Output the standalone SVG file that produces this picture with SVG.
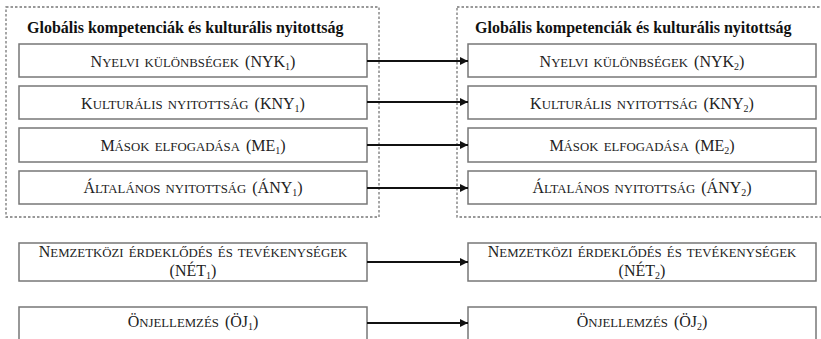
<svg xmlns="http://www.w3.org/2000/svg" width="821" height="339" viewBox="0 0 821 339">
<style>
.grp{fill:none;stroke:#777;stroke-width:1.3;stroke-dasharray:2.5,2}
.box{fill:#fff;stroke:#777;stroke-width:1.5}
.ttl{font-family:"Liberation Serif",serif;font-weight:bold;font-size:16px;fill:#111}
.lbl{font-family:"Liberation Serif",serif;font-size:16px;fill:#222;text-anchor:middle;word-spacing:2px}
.sc{font-size:12.8px}
.sub{font-size:10px}
.con{stroke:#111;stroke-width:2;fill:none;marker-end:url(#ah)}
</style>
<defs>
<marker id="ah" viewBox="0 0 10 10" refX="10" refY="5" markerWidth="4" markerHeight="4" orient="auto" markerUnits="strokeWidth">
<path d="M0,0 L10,5 L0,10 z" fill="#111"/>
</marker>
</defs>
<g id="group1">
<rect class="grp" x="6" y="7" width="373" height="210"/>
<text class="ttl" x="27" y="33">Globális kompetenciák és kulturális nyitottság</text>
</g>
<g id="group2">
<rect class="grp" x="457" y="7" width="370" height="210"/>
<text class="ttl" x="475" y="33">Globális kompetenciák és kulturális nyitottság</text>
</g>
<g id="nyk1"><rect class="box" x="19" y="44" width="348" height="33"/><text class="lbl" x="193" y="67">N<tspan class="sc">YELVI KÜLÖNBSÉGEK</tspan> (NYK<tspan class="sub" dy="3">1</tspan><tspan dy="-3">)</tspan></text></g>
<g id="kny1"><rect class="box" x="19" y="86" width="348" height="33"/><text class="lbl" x="193" y="109">K<tspan class="sc">ULTURÁLIS NYITOTTSÁG</tspan> (KNY<tspan class="sub" dy="3">1</tspan><tspan dy="-3">)</tspan></text></g>
<g id="me1"><rect class="box" x="19" y="128" width="348" height="34"/><text class="lbl" x="193" y="151">M<tspan class="sc">ÁSOK ELFOGADÁSA</tspan> (ME<tspan class="sub" dy="3">1</tspan><tspan dy="-3">)</tspan></text></g>
<g id="any1"><rect class="box" x="19" y="171" width="348" height="33"/><text class="lbl" x="193" y="193">Á<tspan class="sc">LTALÁNOS NYITOTTSÁG</tspan> (ÁNY<tspan class="sub" dy="3">1</tspan><tspan dy="-3">)</tspan></text></g>
<g id="nyk2"><rect class="box" x="468" y="44" width="348" height="33"/><text class="lbl" x="642" y="67">N<tspan class="sc">YELVI KÜLÖNBSÉGEK</tspan> (NYK<tspan class="sub" dy="3">2</tspan><tspan dy="-3">)</tspan></text></g>
<g id="kny2"><rect class="box" x="468" y="86" width="348" height="33"/><text class="lbl" x="642" y="109">K<tspan class="sc">ULTURÁLIS NYITOTTSÁG</tspan> (KNY<tspan class="sub" dy="3">2</tspan><tspan dy="-3">)</tspan></text></g>
<g id="me2"><rect class="box" x="468" y="128" width="348" height="34"/><text class="lbl" x="642" y="151">M<tspan class="sc">ÁSOK ELFOGADÁSA</tspan> (ME<tspan class="sub" dy="3">2</tspan><tspan dy="-3">)</tspan></text></g>
<g id="any2"><rect class="box" x="468" y="171" width="348" height="33"/><text class="lbl" x="642" y="193">Á<tspan class="sc">LTALÁNOS NYITOTTSÁG</tspan> (ÁNY<tspan class="sub" dy="3">2</tspan><tspan dy="-3">)</tspan></text></g>
<g id="net1"><rect class="box" x="19" y="243" width="348" height="38"/><text class="lbl" x="193" y="257">N<tspan class="sc">EMZETKÖZI ÉRDEKLŐDÉS ÉS TEVÉKENYSÉGEK</tspan></text><text class="lbl" x="193" y="276">(NÉT<tspan class="sub" dy="3">1</tspan><tspan dy="-3">)</tspan></text></g>
<g id="net2"><rect class="box" x="468" y="243" width="348" height="38"/><text class="lbl" x="642" y="257">N<tspan class="sc">EMZETKÖZI ÉRDEKLŐDÉS ÉS TEVÉKENYSÉGEK</tspan></text><text class="lbl" x="642" y="276">(NÉT<tspan class="sub" dy="3">2</tspan><tspan dy="-3">)</tspan></text></g>
<g id="oj1"><rect class="box" x="19" y="307" width="348" height="36"/><text class="lbl" x="193" y="327">Ö<tspan class="sc">NJELLEMZÉS</tspan> (ÖJ<tspan class="sub" dy="3">1</tspan><tspan dy="-3">)</tspan></text></g>
<g id="oj2"><rect class="box" x="468" y="307" width="348" height="36"/><text class="lbl" x="642" y="327">Ö<tspan class="sc">NJELLEMZÉS</tspan> (ÖJ<tspan class="sub" dy="3">2</tspan><tspan dy="-3">)</tspan></text></g>
<g id="connectors">
<line class="con" x1="367" y1="61" x2="468" y2="61"/>
<line class="con" x1="367" y1="102" x2="468" y2="102"/>
<line class="con" x1="367" y1="145" x2="468" y2="145"/>
<line class="con" x1="367" y1="188" x2="468" y2="188"/>
<line class="con" x1="367" y1="262" x2="468" y2="262"/>
<line class="con" x1="367" y1="323" x2="468" y2="323"/>
</g>
</svg>
